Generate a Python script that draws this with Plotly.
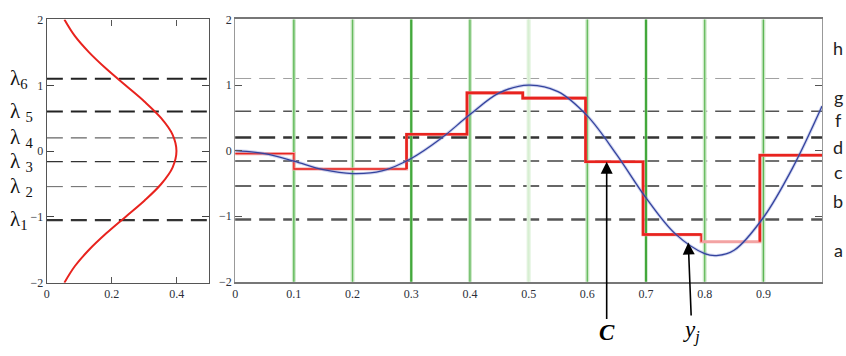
import numpy as np
import plotly.graph_objects as go

# Probability density of the signal amplitude (left panel), sampled along the amplitude axis
dens_y = [-2.0, -1.75, -1.5, -1.25, -1.0, -0.75, -0.5, -0.25, 0.0,
          0.25, 0.5, 0.75, 1.0, 1.25, 1.5, 1.75, 2.0]
dens_x = [0.054, 0.086, 0.130, 0.183, 0.242, 0.301, 0.352, 0.387, 0.399,
          0.387, 0.352, 0.301, 0.242, 0.183, 0.130, 0.086, 0.054]

# Continuous signal (blue)
sig_t = [0.0, 0.05, 0.10, 0.15, 0.20, 0.25, 0.30, 0.35, 0.40, 0.45, 0.50,
         0.55, 0.60, 0.65, 0.70, 0.75, 0.80, 0.82, 0.85, 0.90, 0.95, 1.0]
sig_v = [0.0, -0.045, -0.16, -0.29, -0.35, -0.31, -0.12, 0.18, 0.55, 0.88, 1.0,
         0.90, 0.53, -0.06, -0.72, -1.27, -1.57, -1.60, -1.52, -1.02, -0.26, 0.68]

# Quantised signal: segment boundaries and held level on each segment
step_t = [0.0, 0.1, 0.292, 0.395, 0.49, 0.597, 0.695, 0.794, 0.894, 1.0]
step_v = [-0.045, -0.28, 0.25, 0.88, 0.80, -0.17, -1.28, -1.39, -0.07]

# Decision thresholds lambda_1 .. lambda_6
levels = [-1.05, -0.54, -0.16, 0.2, 0.6, 1.1]
level_names = ["λ<sub>1</sub>", "λ <sub>2</sub>", "λ <sub>3</sub>",
               "λ <sub>4</sub>", "λ <sub>5</sub>", "λ<sub>6</sub>"]

# Quantisation band names on the right
band_names = ["a", "b", "c", "d", "f", "g", "h"]
band_y = [-1.51, -0.77, -0.33, 0.06, 0.46, 0.82, 1.56]

# Sampling instants (vertical green lines)
grid_t = [0.1, 0.2, 0.3, 0.4, 0.5, 0.6, 0.7, 0.8, 0.9]

# Arrow targets
c_t = 0.633
yj_t = 0.772

SERIF = "Liberation Serif"
TICK_FONT = dict(family=SERIF, size=12, color="#2b2f3a")
DASH = "16px,8px"

# Styles of the threshold lines in each panel (same order as levels)
left_style = [("#333333", 2.2), ("#666666", 1.0), ("#333333", 1.3),
              ("#666666", 1.3), ("#222222", 2.0), ("#222222", 2.0)]
right_style = [("#555555", 2.5), ("#666666", 2.0), ("#444444", 1.5),
               ("#333333", 2.5), ("#555555", 1.5), ("#a0a0a0", 1.0)]
# Sampling-line styles: (halo colour, halo width, core colour, core width)
grid_style = [("#cde9c8", 4, "#55b44f", 1.3), ("#cde9c8", 4, "#66bb5e", 1.3),
              ("#cde9c8", 3, "#43a83c", 2.2), ("#cde9c8", 4, "#5cb655", 1.3),
              ("#e0f2dc", 4, "#d6eed1", 1.0), ("#cde9c8", 4, "#66bb5e", 1.3),
              ("#cde9c8", 3, "#43a83c", 2.2), ("#cde9c8", 4, "#66bb5e", 1.3),
              ("#cde9c8", 4, "#5cb655", 1.3)]


def step_xy(i0, i1, lead_in=False):
    xs, ys = [], []
    if lead_in and i0 > 0:
        xs.append(step_t[i0])
        ys.append(step_v[i0 - 1])
    for i in range(i0, i1):
        xs += [step_t[i], step_t[i + 1]]
        ys += [step_v[i], step_v[i]]
    return xs, ys


fig = go.Figure()

# Left panel: density curve
fig.add_trace(go.Scatter(x=dens_x, y=dens_y, mode="lines",
                         line=dict(color="#e8231e", width=2, shape="spline"),
                         xaxis="x", yaxis="y", showlegend=False))

# Right panel: quantised signal (pink underlay, thin red, thick red)
xs, ys = step_xy(0, len(step_v))
fig.add_trace(go.Scatter(x=xs, y=ys, mode="lines",
                         line=dict(color="#f3a3a3", width=3.2),
                         xaxis="x2", yaxis="y2", showlegend=False))
xs, ys = step_xy(0, 2)
fig.add_trace(go.Scatter(x=xs, y=ys, mode="lines",
                         line=dict(color="#e8231e", width=1.3),
                         xaxis="x2", yaxis="y2", showlegend=False))
for a, b in [(2, 7), (8, 9)]:
    xs, ys = step_xy(a, b, lead_in=True)
    fig.add_trace(go.Scatter(x=xs, y=ys, mode="lines",
                             line=dict(color="#e8231e", width=2.6),
                             xaxis="x2", yaxis="y2", showlegend=False))
xs, ys = step_xy(6, 7)
fig.add_trace(go.Scatter(x=xs + [step_t[7]], y=ys + [step_v[7]], mode="lines",
                         line=dict(color="#e8231e", width=1.4),
                         xaxis="x2", yaxis="y2", showlegend=False))

# Continuous signal
fig.add_trace(go.Scatter(x=sig_t, y=sig_v, mode="lines",
                         line=dict(color="rgba(120,135,210,0.35)", width=3.2, shape="spline"),
                         xaxis="x2", yaxis="y2", showlegend=False))
fig.add_trace(go.Scatter(x=sig_t, y=sig_v, mode="lines",
                         line=dict(color="#34439e", width=1.3, shape="spline"),
                         xaxis="x2", yaxis="y2", showlegend=False))

shapes = []
for lv, (lc, lw), (rc, rw) in zip(levels, left_style, right_style):
    shapes.append(dict(type="line", xref="x domain", yref="y", x0=0, x1=1, y0=lv, y1=lv,
                       line=dict(color=lc, width=lw, dash=DASH), layer="below"))
    shapes.append(dict(type="line", xref="x2 domain", yref="y2", x0=0, x1=1, y0=lv, y1=lv,
                       line=dict(color=rc, width=rw, dash=DASH), layer="below"))
for gt, (hc, hw, cc, cw) in zip(grid_t, grid_style):
    shapes.append(dict(type="line", xref="x2", yref="y2 domain", x0=gt, x1=gt, y0=0, y1=1,
                       line=dict(color=hc, width=hw), layer="below"))
    shapes.append(dict(type="line", xref="x2", yref="y2 domain", x0=gt, x1=gt, y0=0, y1=1,
                       line=dict(color=cc, width=cw), layer="below"))

annotations = []
for lv, name in zip(levels, level_names):
    annotations.append(dict(xref="paper", yref="y", x=0.006, y=lv, xanchor="left",
                            yanchor="middle", text=name, showarrow=False,
                            font=dict(family=SERIF, size=21, color="#111")))
for name, by in zip(band_names, band_y):
    annotations.append(dict(xref="paper", yref="y2", x=0.991, y=by, xanchor="center",
                            yanchor="middle", text=name, showarrow=False,
                            font=dict(family="Lato", size=18, color="#222")))

# Arrow to the quantised value C
c_val = step_v[int(np.searchsorted(step_t, c_t, side="right")) - 1]
annotations.append(dict(xref="x2", yref="y2", x=c_t, y=c_val,
                        axref="x2", ayref="y2", ax=c_t, ay=-2.78,
                        text="<b><i>C</i></b>", showarrow=True,
                        arrowhead=2, arrowsize=1.5, arrowwidth=1.6, arrowcolor="#000",
                        font=dict(family=SERIF, size=23, color="#000")))
# Arrow to the sample y_j on the continuous signal
yj_val = float(np.interp(yj_t, sig_t, sig_v))
annotations.append(dict(xref="x2", yref="y2", x=yj_t, y=yj_val,
                        axref="x2", ayref="y2", ax=yj_t + 0.006, ay=-2.76,
                        text="<i>y<sub>j</sub></i>", showarrow=True,
                        arrowhead=2, arrowsize=1.5, arrowwidth=1.6, arrowcolor="#000",
                        font=dict(family=SERIF, size=23, color="#000")))

H = 356.0
W = 846.0
axis_common = dict(showgrid=False, zeroline=False, tickfont=TICK_FONT,
                   ticks="inside", mirror="ticks")

fig.update_layout(
    width=846, height=356,
    margin=dict(l=0, r=0, t=0, b=0),
    paper_bgcolor="white", plot_bgcolor="white",
    showlegend=False,
    xaxis=dict(domain=[44 / W, 207 / W], range=[0, 0.5], tickvals=[0, 0.2, 0.4],
               ticklen=6, tickcolor="#555", linecolor="#555", linewidth=1.2,
               showline=True, anchor="y", **axis_common),
    yaxis=dict(domain=[1 - 287 / H, 1 - 13 / H], range=[-2, 2], tickvals=[-2, -1, 0, 1, 2],
               ticklen=7, tickcolor="#444", linecolor="#555", linewidth=1.2,
               showline=True, anchor="x", **axis_common),
    xaxis2=dict(domain=[233 / W, 822 / W], range=[0, 1],
                tickvals=[0, 0.1, 0.2, 0.3, 0.4, 0.5, 0.6, 0.7, 0.8, 0.9],
                ticklen=0, linecolor="#777", linewidth=1.8,
                showline=True, anchor="y2", **axis_common),
    yaxis2=dict(domain=[1 - 286 / H, 1 - 13 / H], range=[-2, 2], tickvals=[-2, -1, 0, 1, 2],
                ticklen=7, tickcolor="#555", linecolor="#999", linewidth=1.0,
                showline=True, anchor="x2", **axis_common),
    shapes=shapes,
    annotations=annotations,
)

fig.write_html("out.html")
